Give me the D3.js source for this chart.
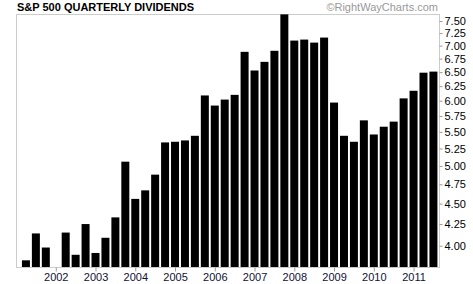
<!DOCTYPE html>
<html>
<head>
<meta charset="utf-8">
<script src="https://cdn.jsdelivr.net/npm/d3@7"></script>
<style>
  body { margin: 0; background: #fff; }
  text { font-family: Arial, "Liberation Sans", sans-serif; }
</style>
</head>
<body>
<div class="container"></div>
<script>
const w = 473;
const h = 284;

// quarters 2001 Q1 .. 2011 Q2, value in $ per share
const quarters = [
  '2001Q1', '2001Q2', '2001Q3', '2001Q4',
  '2002Q1', '2002Q2', '2002Q3', '2002Q4',
  '2003Q1', '2003Q2', '2003Q3', '2003Q4',
  '2004Q1', '2004Q2', '2004Q3', '2004Q4',
  '2005Q1', '2005Q2', '2005Q3', '2005Q4',
  '2006Q1', '2006Q2', '2006Q3', '2006Q4',
  '2007Q1', '2007Q2', '2007Q3', '2007Q4',
  '2008Q1', '2008Q2', '2008Q3', '2008Q4',
  '2009Q1', '2009Q2', '2009Q3', '2009Q4',
  '2010Q1', '2010Q2', '2010Q3', '2010Q4',
  '2011Q1', '2011Q2',
];
const dividends = [
  3.84, 4.14, 3.98, 3.72,
  4.15, 3.90, 4.25, 3.92,
  4.09, 4.33, 5.06, 4.56,
  4.67, 4.88, 5.34, 5.35,
  5.37, 5.44, 6.09, 5.92,
  6.02, 6.10, 6.88, 6.53,
  6.69, 6.90, 7.64, 7.10,
  7.12, 7.06, 7.16, 5.97,
  5.44, 5.35, 5.68, 5.46,
  5.58, 5.66, 6.04, 6.17,
  6.49, 6.51,
];
const yearTicks = [2002, 2003, 2004, 2005, 2006, 2007, 2008, 2009, 2010, 2011];
const yTicks = [4.0, 4.25, 4.5, 4.75, 5.0, 5.25, 5.5, 5.75, 6.0, 6.25, 6.5, 6.75, 7.0, 7.25, 7.5];

const pLeft = 16, pRight = 439, pTop = 14, pBottom = 267;
let svg = null;

window.onload = () => {
  svg = d3.select('.container').append('svg').attr('width', w).attr('height', h);
  draw();
};

// bar sits at the end of its quarter
function quarterEnd(q) {
  return +q.slice(0, 4) + (+q.slice(5)) * 0.25;
}

function draw() {
  const x = d3.scaleLinear().domain([2001.0, 2011.64]).range([pLeft, pRight]);
  const y = d3.scaleLog().domain([3.769, 7.648]).range([pBottom, pTop]);

  const data = quarters.map((q, i) => ({ q: q, t: quarterEnd(q), v: dividends[i] }));

  svg.append('text')
    .attr('x', 17).attr('y', 11)
    .attr('font-size', '11px').attr('font-weight', 'bold')
    .text('S&P 500 QUARTERLY DIVIDENDS');

  svg.append('text')
    .attr('x', 438).attr('y', 11)
    .attr('text-anchor', 'end')
    .attr('font-size', '11px').attr('fill', '#999')
    .text('©RightWayCharts.com');

  svg.append('rect')
    .attr('x', pLeft + 0.5).attr('y', pTop + 0.5)
    .attr('width', pRight - pLeft).attr('height', pBottom - pTop)
    .attr('fill', 'none').attr('stroke', '#ccc');

  svg.selectAll('rect.bar').data(data).enter().append('rect')
    .attr('class', 'bar')
    .attr('x', (d) => x(d.t) - 4)
    .attr('width', 8)
    .attr('y', (d) => Math.min(pBottom, y(d.v)))
    .attr('height', (d) => Math.max(0, pBottom - y(d.v)))
    .attr('fill', '#000');

  const yAxis = svg.append('g')
    .attr('transform', `translate(${pRight + 0.5},0)`)
    .call(d3.axisRight(y).tickValues(yTicks).tickFormat(d3.format('.2f')).tickSize(3).tickPadding(2));
  yAxis.select('.domain').remove();
  yAxis.selectAll('line').attr('stroke', '#999');
  yAxis.selectAll('text').attr('font-size', '11px').attr('fill', '#000')
    .attr('font-family', 'Arial, "Liberation Sans", sans-serif');

  const xAxis = svg.append('g')
    .attr('transform', `translate(0,${pBottom + 0.5})`)
    .call(d3.axisBottom(x).tickValues(yearTicks).tickFormat(d3.format('d')).tickSize(4).tickPadding(2));
  xAxis.select('.domain').remove();
  xAxis.selectAll('line').attr('stroke', '#999');
  xAxis.selectAll('text').attr('font-size', '11px').attr('fill', '#111133')
    .attr('font-family', 'Arial, "Liberation Sans", sans-serif');
}
</script>
</body>
</html>
